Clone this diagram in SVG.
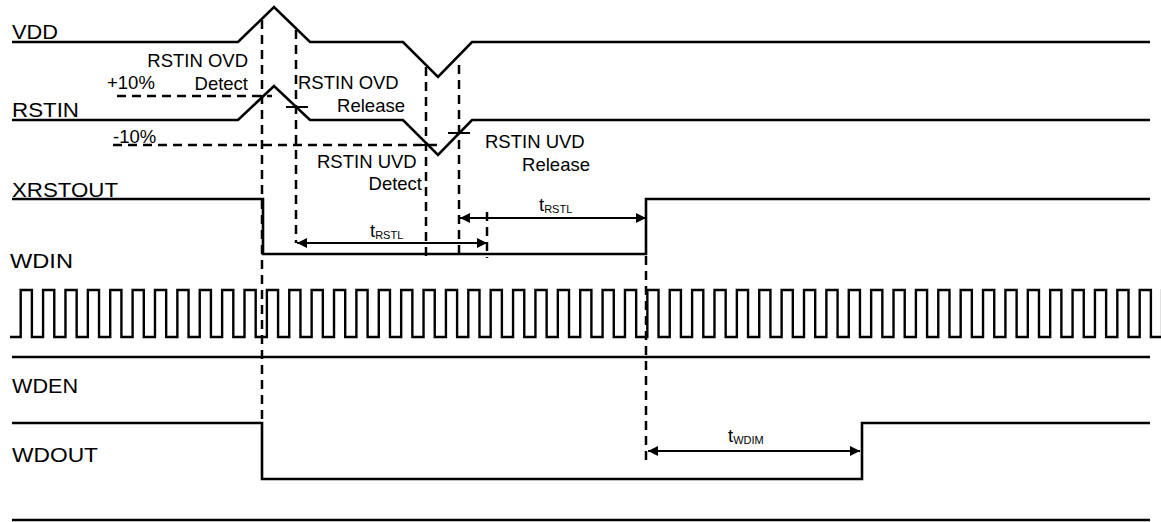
<svg xmlns="http://www.w3.org/2000/svg" width="1161" height="522" viewBox="0 0 1161 522">
<style>
.sig{fill:none;stroke:#000;stroke-width:2.6;stroke-linejoin:miter}
.clk{fill:none;stroke:#000;stroke-width:2.4}
.dash{fill:none;stroke:#000;stroke-width:2.5;stroke-dasharray:9 6}
.tick{fill:none;stroke:#000;stroke-width:2}
.arr{fill:none;stroke:#000;stroke-width:2;marker-start:url(#ah);marker-end:url(#ah)}
.lbl{font-family:"Liberation Sans",Arial,sans-serif;font-size:21px;fill:#000}
.sm{font-family:"Liberation Sans",Arial,sans-serif;font-size:18.5px;fill:#000}
.sub{font-size:11px}
</style>
<defs>
<marker id="ah" viewBox="0 0 10 10" refX="10" refY="5" markerWidth="10" markerHeight="10" markerUnits="userSpaceOnUse" orient="auto-start-reverse">
<path d="M0,0 L10,5 L0,10 Z" fill="#000"/>
</marker>
</defs>
<g id="signal-labels">
<text class="lbl" x="12" y="39" textLength="46" lengthAdjust="spacingAndGlyphs">VDD</text>
<text class="lbl" x="12" y="117" textLength="67" lengthAdjust="spacingAndGlyphs">RSTIN</text>
<text class="lbl" x="12" y="197" textLength="106" lengthAdjust="spacingAndGlyphs">XRSTOUT</text>
<text class="lbl" x="10" y="268" textLength="63" lengthAdjust="spacingAndGlyphs">WDIN</text>
<text class="lbl" x="12" y="393" textLength="66" lengthAdjust="spacingAndGlyphs">WDEN</text>
<text class="lbl" x="12" y="462" textLength="86" lengthAdjust="spacingAndGlyphs">WDOUT</text>
</g>
<g id="waveforms">
<path id="vdd" class="sig" d="M12,42 H238 L274,7 L310,42 H403 L438,77 L472,42 H1150"/>
<path id="rstin" class="sig" d="M12,120 H238 L274,86 L310,120 H403 L438,155 L472,120 H1150"/>
<path id="xrstout" class="sig" d="M12,199 H263 V254 H646 V199 H1150"/>
<path id="wdin" class="clk" d="M10,337 H20.7 v-47 h11.19 v47 h11.19 v-47 h11.19 v47 h11.19 v-47 h11.19 v47 h11.19 v-47 h11.19 v47 h11.19 v-47 h11.19 v47 h11.19 v-47 h11.19 v47 h11.19 v-47 h11.19 v47 h11.19 v-47 h11.19 v47 h11.19 v-47 h11.19 v47 h11.19 v-47 h11.19 v47 h11.19 v-47 h11.19 v47 h11.19 v-47 h11.19 v47 h11.19 v-47 h11.19 v47 h11.19 v-47 h11.19 v47 h11.19 v-47 h11.19 v47 h11.19 v-47 h11.19 v47 h11.19 v-47 h11.19 v47 h11.19 v-47 h11.19 v47 h11.19 v-47 h11.19 v47 h11.19 v-47 h11.19 v47 h11.19 v-47 h11.19 v47 h11.19 v-47 h11.19 v47 h11.19 v-47 h11.19 v47 h11.19 v-47 h11.19 v47 h11.19 v-47 h11.19 v47 h11.19 v-47 h11.19 v47 h11.19 v-47 h11.19 v47 h11.19 v-47 h11.19 v47 h11.19 v-47 h11.19 v47 h11.19 v-47 h11.19 v47 h11.19 v-47 h11.19 v47 h11.19 v-47 h11.19 v47 h11.19 v-47 h11.19 v47 h11.19 v-47 h11.19 v47 h11.19 v-47 h11.19 v47 h11.19 v-47 h11.19 v47 h11.19 v-47 h11.19 v47 h11.19 v-47 h11.19 v47 h11.19 v-47 h11.19 v47 h11.19 v-47 h11.19 v47 h11.19 v-47 h11.19 v47 h11.19 v-47 h11.19 v47 h11.19 v-47 h11.19 v47 h11.19 v-47 h11.19 v47 h11.19 v-47 h11.19 v47 h11.19 v-47 h11.19 v47 h11.19 v-47 h11.19 v47 h11.19 v-47 h11.19 v47 h11.19 v-47 h11.19 v47 h11.19 v-47 h11.19 v47 h11.19 v-47 h11.19 v47 h11.19 v-47 h11.19 v47 h11.19 v-47 h11.19 v47 h11.19 v-47 h11.19 v47 h11.19 v-47 h11.19 v47 h11.19 v-47 h11.19 v47 h11.19 v-47 h11.19 v47 h11.19 v-47 h11.19 v47 h11.19 v-47 h11.19 v47 h11.19 v-47 h11.19 v47 h11.19 v-47 h11.19 v47 H1159"/>
<path id="wden" class="sig" d="M12,357 H1150"/>
<path id="wdout" class="sig" d="M12,423 H262 V479 H862 V423 H1150"/>
<path id="bottom" class="sig" d="M12,520 H1150"/>
</g>
<g id="connectors">
<path class="dash" d="M117,96 H272"/>
<path class="dash" d="M113,145 H437"/>
<path class="dash" d="M262,20 V423"/>
<path class="dash" d="M296,30 V243"/>
<path class="dash" d="M426,67 V256"/>
<path class="dash" d="M459,65 V256"/>
<path class="dash" d="M487,212 V258"/>
<path class="dash" d="M646,256 V460"/>
<path class="tick" d="M286,107 H308"/>
<path class="tick" d="M448,133 H470"/>
<path class="tick" d="M416,145 H436"/>
<path class="arr" d="M297,243 H487"/>
<path class="arr" d="M460,218 H646"/>
<path class="arr" d="M648,451 H860"/>
</g>
<g id="annotations">
<text class="sm" x="248" y="67" text-anchor="end">RSTIN OVD</text>
<text class="sm" x="248" y="90" text-anchor="end">Detect</text>
<text class="sm" x="107" y="89">+10%</text>
<text class="sm" x="113" y="143">-10%</text>
<text class="sm" x="298" y="89">RSTIN OVD</text>
<text class="sm" x="405" y="112" text-anchor="end">Release</text>
<text class="sm" x="317" y="168">RSTIN UVD</text>
<text class="sm" x="422" y="190" text-anchor="end">Detect</text>
<text class="sm" x="485" y="148">RSTIN UVD</text>
<text class="sm" x="590" y="171" text-anchor="end">Release</text>
<text class="sm" x="370" y="237">t<tspan class="sub" dy="2">RSTL</tspan></text>
<text class="sm" x="539" y="211">t<tspan class="sub" dy="2">RSTL</tspan></text>
<text class="sm" x="728" y="442">t<tspan class="sub" dy="2">WDIM</tspan></text>
</g>
</svg>
